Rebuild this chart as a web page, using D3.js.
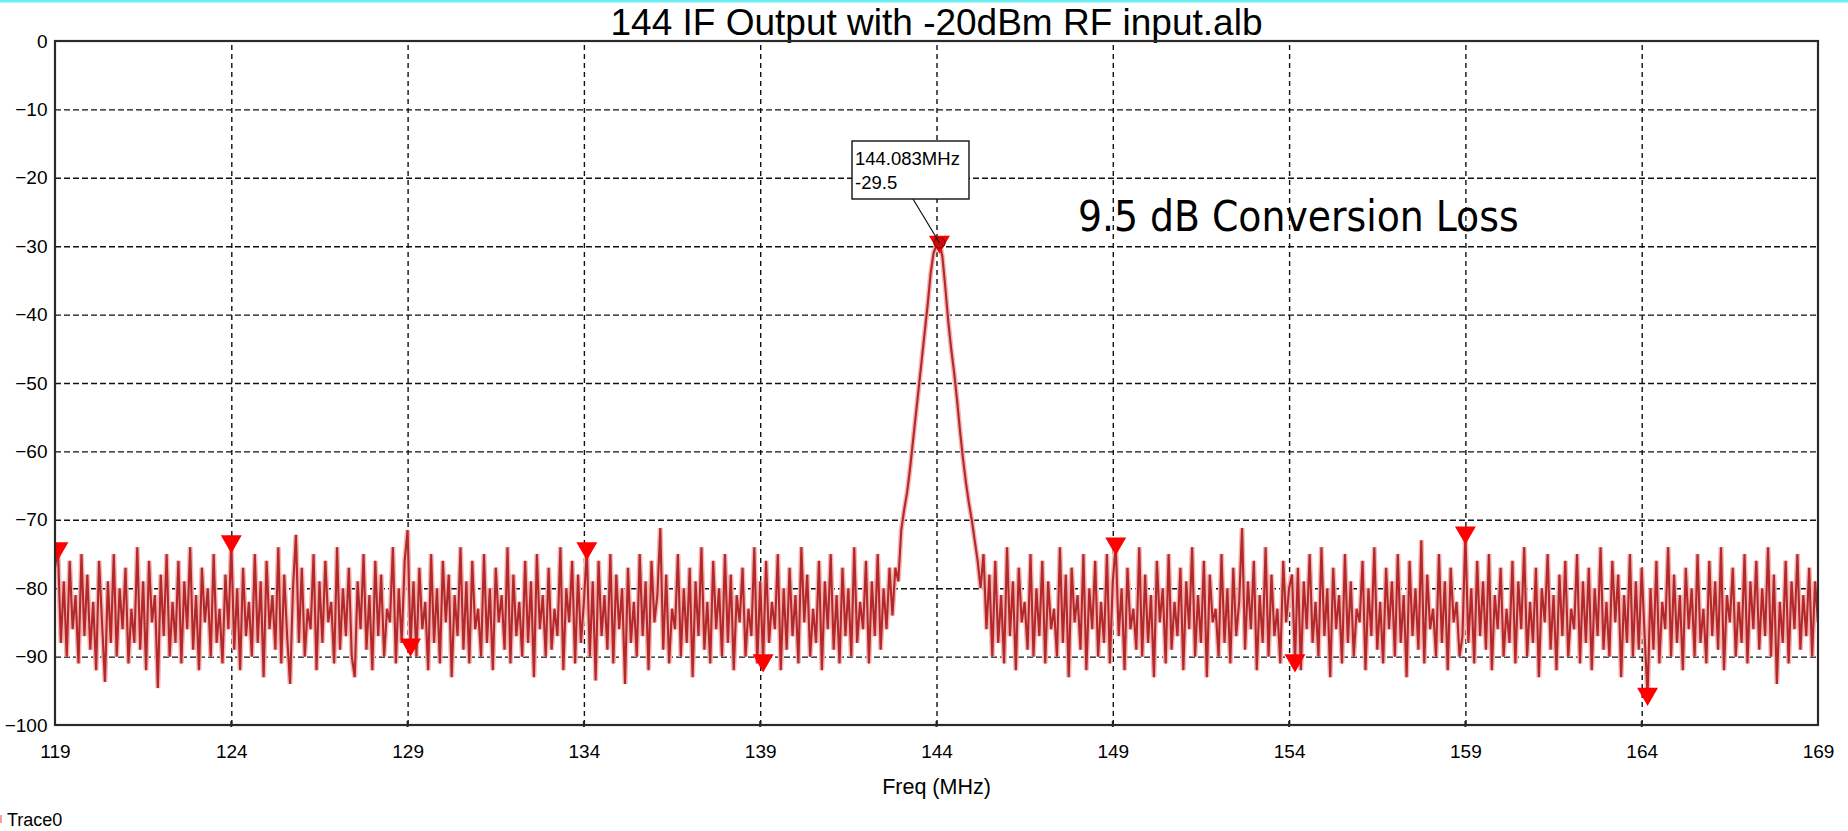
<!DOCTYPE html>
<html>
<head>
<meta charset="utf-8">
<script src="https://cdn.jsdelivr.net/npm/d3@7/dist/d3.min.js"></script>
<style>
  html, body { margin: 0; padding: 0; background: #fff; }
  svg { display: block; }
</style>
</head>
<body>
<svg id="chart" width="1848" height="831"></svg>
<script>
// ---------- data ----------
const chartTitle = "144 IF Output with -20dBm RF input.alb";
const xLabel = "Freq (MHz)";
const traceName = "Trace0";
const annotation = "9.5 dB Conversion Loss";
const markerReadout = ["144.083MHz", "-29.5"];

const xTicks = [119, 124, 129, 134, 139, 144, 149, 154, 159, 164, 169];
const yTicks = [0, -10, -20, -30, -40, -50, -60, -70, -80, -90, -100];

const freqStart = 119;      // MHz, first sample
const freqStep = 1 / 12;    // MHz per sample (601 samples over 50 MHz)

// trace samples (dBm), left noise floor: samples 0..285
const noiseLeft = [
  -77,-74.3,-88,-79,-90,-76,-86,-81,-91,-75,-87,-78,-89,-82,-92,-76,-85,-93.7,-79,-88,
  -75,-90,-80,-86,-77,-91,-83,-88,-74,-89,-79,-92,-76,-85,-81,-94.6,-78,-87,-75,-90,
  -82,-88,-76,-91,-79,-86,-74,-89,-81,-92,-77,-85,-80,-90,-75,-88,-83,-91,-78,-86,
  -73.3,-89,-80,-92,-77,-87,-82,-90,-75,-88,-79,-93,-76,-86,-81,-89,-74,-91,-78,-87,
  -94,-80,-72.2,-88,-77,-90,-83,-86,-75,-92,-79,-88,-76,-85,-82,-91,-74,-89,-80,-87,
  -77,-90,-93,-79,-86,-75,-89,-81,-92,-76,-87,-78,-90,-83,-85,-74,-91,-80,-88,-76,
  -71.5,-88.4,-79,-90,-77,-86,-82,-92,-75,-88,-80,-91,-76,-85,-78,-93,-81,-87,-74,-89,
  -79,-91,-76,-86,-83,-90,-75,-88,-80,-92,-77,-85,-81,-89,-74,-91,-78,-87,-82,-90,
  -76,-88,-79,-93,-75,-86,-81,-90,-77,-89,-83,-87,-74,-92,-80,-85,-76,-91,-78,-88,
  -82,-74.3,-90,-79,-93.5,-76,-87,-81,-89,-75,-91,-78,-86,-80,-94,-77,-88,-82,-90,-75,
  -87,-79,-92,-76,-85,-81,-71.2,-89,-78,-91,-83,-86,-75,-90,-80,-88,-77,-93,-79,-87,
  -74,-89,-82,-91,-76,-86,-80,-90,-75,-88,-78,-92,-81,-85,-77,-90,-83,-87,-74,-91,
  -79,-90.7,-76,-88,-82,-86,-75,-92,-80,-89,-77,-87,-81,-91,-74,-85,-78,-90,-83,-88,
  -76,-92,-79,-86,-75,-89,-81,-91,-77,-87,-80,-90,-74,-88,-82,-86,-76,-91,-79,-87,
  -75,-89,-80,-86,-77,-84
];
// IF peak: samples 286..314
const peak = [
  -77,-79,-71.5,-68.5,-66,-62.5,-58.5,-54.5,-50.5,-46.5,-42.5,-38.5,-34,-31,-29.8,
  -29.5,-31.5,-36,-41,-45,-48.5,-52.5,-57,-61,-64.5,-67.5,-70,-73,-76
];
// right noise floor: samples 315..600
const noiseRight = [
  -80,-75,-86,-78,-90,-76,-88,-81,-91,-74,-87,-79,-92,-77,-85,-82,-89,-75,-90,-80,
  -87,-76,-91,-79,-86,-83,-90,-74,-88,-78,-93,-77,-85,-81,-89,-75,-92,-80,-86,-76,
  -90,-82,-88,-75,-91,-79,-73.6,-87,-80,-92,-77,-86,-83,-89,-74,-90,-78,-88,-81,-93,
  -76,-85,-80,-91,-75,-89,-82,-87,-77,-92,-79,-86,-74,-90,-81,-88,-76,-93,-78,-85,
  -83,-90,-75,-88,-80,-91,-77,-87,-82,-71.2,-89,-79,-86,-76,-92,-81,-88,-74,-90,-78,
  -87,-83,-91,-76,-85,-80,-78,-90.7,-77,-92,-79,-86,-75,-88,-82,-90,-74,-87,-80,-93,
  -77,-86,-81,-91,-75,-88,-79,-90,-83,-85,-76,-92,-80,-87,-74,-89,-82,-91,-77,-86,
  -79,-90,-75,-88,-81,-93,-76,-87,-80,-89,-73,-91,-78,-86,-83,-90,-75,-88,-79,-92,
  -77,-85,-82,-90,-87,-72.0,-88,-80,-91,-76,-87,-79,-89,-75,-92,-81,-86,-77,-90,-83,
  -88,-76,-91,-79,-86,-74,-90,-82,-88,-77,-93,-80,-85,-75,-89,-81,-92,-78,-87,-76,
  -90,-83,-86,-75,-91,-79,-88,-77,-92,-80,-87,-74,-89,-82,-90,-76,-85,-78,-93,-81,
  -88,-75,-90,-79,-89,-77,-87,-95.6,-80,-89,-76,-91,-82,-86,-74,-90,-78,-88,-81,-92,
  -77,-86,-80,-90,-75,-88,-83,-91,-76,-87,-79,-89,-74,-92,-81,-85,-77,-90,-82,-88,
  -75,-91,-79,-86,-76,-89,-80,-87,-74,-90,-78,-94,-82,-88,-76,-91,-79,-86,-75,-89,
  -81,-87,-77,-90,-79,-85
];
// marker sample indices
const markerIdx = [1, 60, 121, 181, 241, 301, 361, 422, 480, 542];
const activeMarker = 301;

// ---------- chart ----------
const traceVals = noiseLeft.concat(peak, noiseRight);
const trace = traceVals.map((v, i) => ({ f: freqStart + i * freqStep, v }));

const svg = d3.select("#chart");
const W = 1848, H = 831;
const pL = 55, pR = 1818, pT = 41, pB = 725;

const x = d3.scaleLinear().domain([119, 169]).range([pL, pR]);
const y = d3.scaleLinear().domain([-100, 0]).range([pB, pT]);

const sans = "'Liberation Sans', Arial, sans-serif";

// cyan strip at the very top
svg.append("rect").attr("x", 0).attr("y", 0).attr("width", W).attr("height", 2.5)
  .attr("fill", "#6cf0f6");

// title
svg.append("text").attr("x", (pL + pR) / 2).attr("y", 35)
  .attr("text-anchor", "middle").attr("font-family", sans).attr("font-size", 37)
  .attr("fill", "#000").text(chartTitle);

// gridlines
const gx = svg.append("g").attr("transform", `translate(0,${pB})`)
  .call(d3.axisBottom(x).tickValues(xTicks.slice(1, -1)).tickSize(-(pB - pT)).tickFormat(""));
gx.select(".domain").remove();
gx.selectAll("line").attr("stroke", "#111").attr("stroke-width", 1.4).attr("stroke-dasharray", "5,4");

const gy = svg.append("g").attr("transform", `translate(${pL},0)`)
  .call(d3.axisLeft(y).tickValues(yTicks.slice(1, -1)).tickSize(-(pR - pL)).tickFormat(""));
gy.select(".domain").remove();
gy.selectAll("line").attr("stroke", "#111").attr("stroke-width", 1.4).attr("stroke-dasharray", "6,3");

// tick labels
const ax = svg.append("g").attr("transform", `translate(0,${pB})`)
  .call(d3.axisBottom(x).tickValues(xTicks).tickSize(0).tickPadding(20).tickFormat(d3.format("d")));
ax.select(".domain").remove();
ax.selectAll("text").attr("font-family", sans).attr("font-size", 19).attr("fill", "#000");

const ay = svg.append("g").attr("transform", `translate(${pL},0)`)
  .call(d3.axisLeft(y).tickValues(yTicks).tickSize(0).tickPadding(7.5).tickFormat(d3.format("d")));
ay.select(".domain").remove();
ay.selectAll("text").attr("font-family", sans).attr("font-size", 19).attr("fill", "#000");

// small ticks on the bottom frame
svg.append("g").selectAll("line").data(xTicks.slice(1, -1)).join("line")
  .attr("x1", d => x(d)).attr("x2", d => x(d)).attr("y1", pB - 4).attr("y2", pB + 2)
  .attr("stroke", "#222").attr("stroke-width", 2);

// axis title
svg.append("text").attr("x", (pL + pR) / 2).attr("y", 794)
  .attr("text-anchor", "middle").attr("font-family", sans).attr("font-size", 21.5)
  .attr("fill", "#000").text(xLabel);

// trace name
svg.append("rect").attr("x", 0).attr("y", 815).attr("width", 2).attr("height", 8).attr("fill", "#f4a0a0");
svg.append("text").attr("x", 7).attr("y", 826).attr("font-family", sans).attr("font-size", 18)
  .attr("fill", "#000").text(traceName);

// clip
svg.append("clipPath").attr("id", "plotclip").append("rect")
  .attr("x", pL).attr("y", pT).attr("width", pR - pL).attr("height", pB - pT);
const plot = svg.append("g").attr("clip-path", "url(#plotclip)");

// trace
const line = d3.line().x(d => x(d.f)).y(d => y(d.v));
plot.append("path").datum(trace).attr("d", line)
  .attr("fill", "none").attr("stroke", "#f4b6b6").attr("stroke-width", 5);
plot.append("path").datum(trace).attr("d", line)
  .attr("fill", "none").attr("stroke", "#b32828").attr("stroke-width", 2.1);

// markers
const tri = d3.symbol().type(d3.symbolTriangle).size(190);
const markers = markerIdx.map(i => trace[i]);
plot.selectAll("path.marker").data(markers).join("path").attr("class", "marker")
  .attr("d", tri)
  .attr("transform", d => `translate(${x(d.f)},${y(d.v) - 1}) rotate(180)`)
  .attr("fill", "#ff0000");

// active marker highlight
const am = trace[activeMarker];
plot.append("circle").attr("cx", x(am.f)).attr("cy", y(am.v)).attr("r", 5.5)
  .attr("fill", "#b01010").attr("fill-opacity", 0.6).attr("stroke", "#7a1010").attr("stroke-width", 1.2);

// frame
svg.append("rect").attr("x", pL).attr("y", pT).attr("width", pR - pL).attr("height", pB - pT)
  .attr("fill", "none").attr("stroke", "#2a2a2a").attr("stroke-width", 2.2);

// marker readout box
const boxX = 852, boxY = 141, boxW = 117, boxH = 58;
svg.append("line").attr("x1", 913).attr("y1", boxY + boxH).attr("x2", x(am.f)).attr("y2", y(am.v))
  .attr("stroke", "#111").attr("stroke-width", 1.2);
svg.append("rect").attr("x", boxX).attr("y", boxY).attr("width", boxW).attr("height", boxH)
  .attr("fill", "#fff").attr("stroke", "#111").attr("stroke-width", 1.4);
svg.append("g").selectAll("text").data(markerReadout).join("text")
  .attr("x", boxX + 3).attr("y", (d, i) => 165 + i * 24)
  .attr("font-family", sans).attr("font-size", 18.5).attr("fill", "#000").text(d => d);

// annotation
svg.append("text").attr("x", 1078).attr("y", 231)
  .attr("font-family", "'DejaVu Sans Condensed', 'DejaVu Sans', sans-serif")
  .attr("font-stretch", "condensed").attr("font-size", 42).attr("fill", "#000").text(annotation);
</script>
</body>
</html>
